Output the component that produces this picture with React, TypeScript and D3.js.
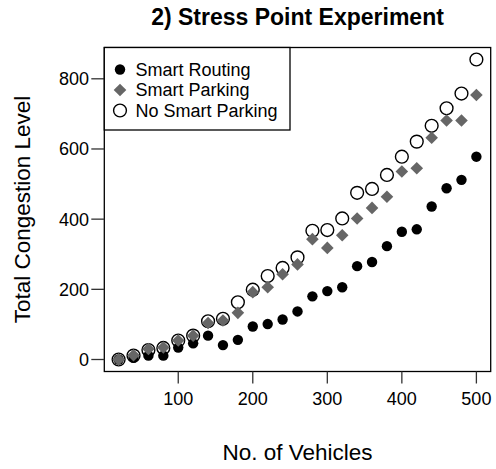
import React from "react";
import * as d3 from "d3";

// vehicles on the x axis
const vehicles = [20, 40, 60, 80, 100, 120, 140, 160, 180, 200, 220, 240, 260, 280, 300, 320, 340, 360, 380, 400, 420, 440, 460, 480, 500];

// congestion
const smartRouting = [0, 5, 11, 11, 34, 46, 68, 41, 56, 94, 101, 114, 137, 180, 195, 206, 266, 278, 323, 364, 371, 436, 488, 512, 578];
const smartParking = [0, 12, 30, 34, 54, 68, 104, 111, 133, 192, 206, 243, 271, 343, 318, 354, 402, 432, 464, 536, 545, 632, 681, 681, 754];
const noSmartParking = [0, 11, 27, 33, 54, 68, 109, 116, 163, 199, 238, 261, 291, 367, 369, 402, 475, 486, 526, 578, 621, 666, 716, 758, 855];

const xTicks = [100, 200, 300, 400, 500];
const yTicks = [0, 200, 400, 600, 800];
const legendLabels = ["Smart Routing", "Smart Parking", "No Smart Parking"];

const W = 496;
const H = 469;
const font = "'Liberation Sans', Arial, sans-serif";
const grey = "#666666";

const plot = { left: 104.3, right: 490.7, top: 47.5, bottom: 371.5 };

// R style 4% padding on both ends
const pad = (lo: number, hi: number) => {
    const d = (hi - lo) * 0.04;
    return [lo - d, hi + d];
};

const Diamond = ({ cx, cy, r }: { cx: number; cy: number; r: number }) => (
    <path d={`M${cx},${cy - r}L${cx + r},${cy}L${cx},${cy + r}L${cx - r},${cy}Z`} fill={grey} />
);

const App = () => {
    const allY = [...smartRouting, ...smartParking, ...noSmartParking];

    const x = d3.scaleLinear()
        .domain(pad(d3.min(vehicles)!, d3.max(vehicles)!))
        .range([plot.left, plot.right]);

    const y = d3.scaleLinear()
        .domain(pad(d3.min(allY)!, d3.max(allY)!))
        .range([plot.bottom, plot.top]);

    const cx = (plot.left + plot.right) / 2;
    const cy = (plot.top + plot.bottom) / 2;

    const legendRows = [69.5, 90, 110.5];

    return (
        <svg width={W} height={H} style={{ position: "absolute", left: 0, top: 0, background: "white" }} fontFamily={font}>
            <text x={cx} y={25} textAnchor="middle" fontSize={23} fontWeight="bold">
                2) Stress Point Experiment
            </text>

            {/* points */}
            {vehicles.map((v, i) => (
                <circle key={"r" + i} cx={x(v)} cy={y(smartRouting[i])} r={5.2} fill="black" />
            ))}
            {vehicles.map((v, i) => (
                <circle key={"n" + i} cx={x(v)} cy={y(noSmartParking[i])} r={6.4} fill="none" stroke="black" strokeWidth={1.4} />
            ))}
            {vehicles.map((v, i) => (
                <Diamond key={"p" + i} cx={x(v)} cy={y(smartParking[i])} r={6.3} />
            ))}

            {/* frame */}
            <rect x={plot.left} y={plot.top} width={plot.right - plot.left} height={plot.bottom - plot.top} fill="none" stroke="black" strokeWidth={1.3} />

            {/* x axis */}
            {xTicks.map(t => (
                <g key={"xt" + t}>
                    <line x1={x(t)} x2={x(t)} y1={plot.bottom} y2={plot.bottom + 12} stroke="#333" strokeWidth={1.3} />
                    <text x={x(t)} y={405} textAnchor="middle" fontSize={18}>{t}</text>
                </g>
            ))}
            <text x={cx} y={460} textAnchor="middle" fontSize={22.5}>No. of Vehicles</text>

            {/* y axis */}
            {yTicks.map(t => (
                <g key={"yt" + t}>
                    <line x1={plot.left - 13} x2={plot.left} y1={y(t)} y2={y(t)} stroke="#333" strokeWidth={1.3} />
                    <text x={89} y={y(t)} dy="0.36em" textAnchor="end" fontSize={18}>{t}</text>
                </g>
            ))}
            <text transform={`translate(30,${cy}) rotate(-90)`} textAnchor="middle" fontSize={22.5}>
                Total Congestion Level
            </text>

            {/* legend */}
            <rect x={plot.left} y={plot.top} width={290 - plot.left} height={130 - plot.top} fill="white" stroke="black" strokeWidth={1.3} />
            <circle cx={120} cy={legendRows[0]} r={5.2} fill="black" />
            <Diamond cx={120} cy={legendRows[1]} r={6.3} />
            <circle cx={120} cy={legendRows[2]} r={6.4} fill="none" stroke="black" strokeWidth={1.4} />
            {legendLabels.map((l, i) => (
                <text key={l} x={135.5} y={legendRows[i]} dy="0.36em" fontSize={18}>{l}</text>
            ))}
        </svg>
    );
};

export default App;
